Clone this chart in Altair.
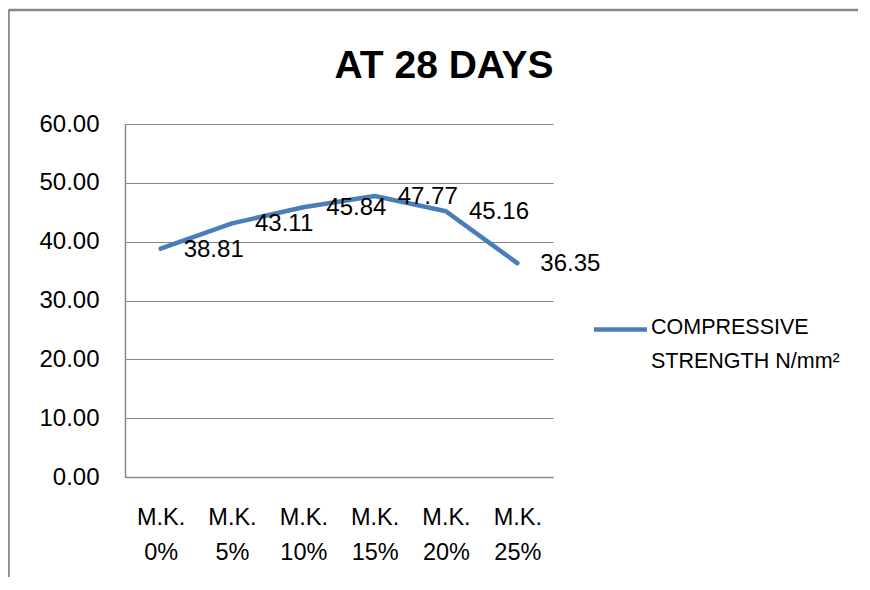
import altair as alt
import pandas as pd

categories = ["M.K. 0%", "M.K. 5%", "M.K. 10%", "M.K. 15%", "M.K. 20%", "M.K. 25%"]
strength = [38.81, 43.11, 45.84, 47.77, 45.16, 36.35]
series_lines = ["COMPRESSIVE", "STRENGTH N/mm²"]
series_name = " ".join(series_lines)
title_text = "AT 28 DAYS"
y_ticks = [0, 10, 20, 30, 40, 50, 60]

df = pd.DataFrame({"cat": categories, "val": strength, "series": series_name})

GRAY = "#878787"
BLUE = "#4a7ebb"
FONT = "Liberation Sans, Arial, sans-serif"

x = alt.X("cat:N", sort=categories, title=None,
          scale=alt.Scale(paddingInner=0, paddingOuter=0),
          axis=alt.Axis(labelExpr="split(datum.label, ' ')", labelAngle=0,
                        labelFont=FONT, labelFontSize=23.5, labelLineHeight=35,
                        labelColor="#000000", labelPadding=28, ticks=False,
                        domainColor=GRAY, domainWidth=1.5, grid=False))
y = alt.Y("val:Q", title=None,
          scale=alt.Scale(domain=[0, 60], nice=False),
          axis=alt.Axis(values=y_ticks, format=".2f", labelFont=FONT,
                        labelFontSize=24, labelColor="#000000", labelPadding=26,
                        ticks=False, domainColor=GRAY, domainWidth=1.5,
                        gridColor=GRAY, gridWidth=1.2))

base = alt.Chart(df)

line = base.mark_line(strokeWidth=4.5, strokeCap="round", strokeJoin="round").encode(
    x=x, y=y,
    color=alt.Color("series:N", scale=alt.Scale(range=[BLUE]),
                    legend=alt.Legend(title=series_lines, titleOrient="right",
                                      titleAnchor="start", titleBaseline="line-top",
                                      titleFont=FONT, titleFontSize=21.5,
                                      titleFontWeight="normal", titleColor="#000000",
                                      titleLineHeight=34, titlePadding=-5,
                                      titleLimit=400,
                                      orient="none", legendX=477, legendY=187,
                                      symbolType="M-1.656,0H1.656", symbolSize=1024,
                                      symbolStrokeWidth=4.5, symbolStrokeColor=BLUE,
                                      labelExpr="''", labelOffset=0)),
)

labels = base.mark_text(align="left", baseline="middle", dx=23, dy=1,
                        font=FONT, fontSize=24, color="#000000").encode(
    x=x, y=y, text=alt.Text("val:Q", format=".2f"))

title_df = pd.DataFrame({"t": [title_text]})
title = alt.Chart(title_df).mark_text(font=FONT, fontSize=39, fontWeight="bold",
                                      align="center", baseline="alphabetic",
                                      color="#000000").encode(
    text="t:N", x=alt.value(319), y=alt.value(-46))

frame_left = alt.Chart(title_df).mark_rule(color=GRAY, strokeWidth=2.5).encode(
    x=alt.value(-116.5), y=alt.value(-114), y2=alt.value(470))
frame_top = alt.Chart(title_df).mark_rule(color=GRAY, strokeWidth=2.5).encode(
    x=alt.value(-116.5), x2=alt.value(740), y=alt.value(-114))

chart = alt.layer(frame_left, frame_top, line, labels, title).properties(
    width=428, height=353,
    autosize=alt.AutoSizeParams(type="none"),
    padding={"left": 117, "top": 116, "right": 305, "bottom": 100},
    background="#ffffff",
).configure_view(stroke=None)

chart.save("out.html", embed_options={"renderer": "svg", "actions": False})
